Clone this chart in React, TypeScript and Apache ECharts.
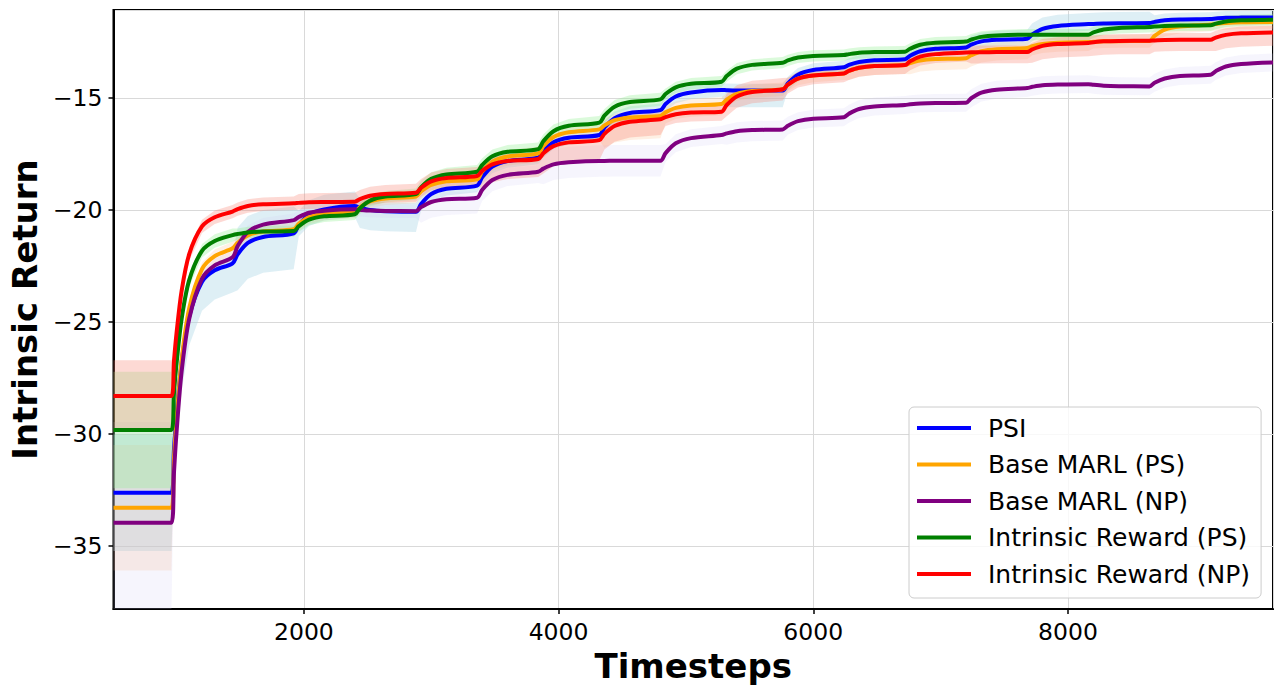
import React, { useEffect, useRef } from "react";
import * as echarts from "echarts";

// ---- data ----
const seriesNames = ["PSI", "Base MARL (PS)", "Base MARL (NP)", "Intrinsic Reward (PS)", "Intrinsic Reward (NP)"];
const lineColors = ["#0000ff", "#ffa500", "#800080", "#008000", "#ff0000"];
const bandColors = [
  "rgba(173,216,230,0.4)",
  "rgba(250,180,120,0.2)",
  "rgba(205,200,245,0.18)",
  "rgba(144,238,144,0.32)",
  "rgba(250,128,114,0.3)",
];

const timesteps = [
  505, 960, 980, 1000, 1040, 1100, 1200, 1300,
  1440, 1480, 1560, 1680,
  1920, 1960, 2040, 2160,
  2400, 2440, 2520, 2640,
  2880, 2920, 3000, 3120,
  3360, 3400, 3480, 3600,
  3840, 3880, 3960, 4080,
  4320, 4360, 4440, 4560,
  4800, 4840, 4920, 5040,
  5280, 5320, 5400, 5520,
  5760, 5800, 5880, 6000,
  6240, 6280, 6360, 6480,
  6720, 6760, 6840, 6960,
  7200, 7240, 7320, 7440,
  7680, 7720, 7800, 7920,
  8160, 8200, 8280, 8400,
  8640, 8680, 8760, 8880,
  9120, 9160, 9240, 9360,
  9610,
];

const psi = [
  -32.62, -32.62, -30.67, -29.14, -26.78, -24.74, -23.2, -22.69,
  -22.38, -21.98, -21.47, -21.2,
  -21.04, -20.67, -20.21, -19.97,
  -19.82, -19.9, -20.0, -20.05,
  -20.08, -19.73, -19.28, -19.05,
  -18.91, -18.54, -18.06, -17.81,
  -17.66, -17.36, -16.97, -16.77,
  -16.65, -16.32, -15.9, -15.67,
  -15.54, -15.27, -14.93, -14.75,
  -14.64, -14.65, -14.66, -14.66,
  -14.66, -14.35, -13.96, -13.75,
  -13.63, -13.52, -13.39, -13.31,
  -13.27, -13.11, -12.91, -12.8,
  -12.74, -12.62, -12.47, -12.4,
  -12.35, -12.16, -11.91, -11.78,
  -11.7, -11.69, -11.67, -11.66,
  -11.65, -11.6, -11.53, -11.49,
  -11.47, -11.45, -11.42, -11.41,
  -11.4,
];

const baseMarlPS = [
  -33.29, -33.29, -31.09, -29.35, -26.69, -24.37, -22.64, -22.06,
  -21.71, -21.46, -21.13, -20.96,
  -20.86, -20.62, -20.32, -20.16,
  -20.07, -19.87, -19.61, -19.48,
  -19.4, -19.17, -18.88, -18.72,
  -18.63, -18.28, -17.84, -17.61,
  -17.47, -17.15, -16.74, -16.53,
  -16.4, -16.22, -15.99, -15.87,
  -15.8, -15.64, -15.44, -15.33,
  -15.27, -15.07, -14.82, -14.69,
  -14.61, -14.4, -14.13, -13.99,
  -13.9, -13.79, -13.65, -13.57,
  -13.53, -13.44, -13.32, -13.26,
  -13.22, -13.09, -12.91, -12.82,
  -12.77, -12.69, -12.59, -12.53,
  -12.5, -12.49, -12.47, -12.46,
  -12.45, -12.23, -11.95, -11.81,
  -11.72, -11.69, -11.65, -11.62,
  -11.61,
];

const baseMarlNP = [
  -33.96, -33.96, -31.71, -29.93, -27.21, -24.84, -23.06, -22.47,
  -22.11, -21.61, -20.98, -20.65,
  -20.45, -20.31, -20.12, -20.03,
  -19.97, -19.99, -20.02, -20.04,
  -20.05, -19.87, -19.64, -19.52,
  -19.45, -19.1, -18.66, -18.43,
  -18.29, -18.15, -17.96, -17.87,
  -17.81, -17.81, -17.8, -17.8,
  -17.8, -17.46, -17.02, -16.79,
  -16.65, -16.58, -16.48, -16.43,
  -16.4, -16.24, -16.03, -15.92,
  -15.86, -15.7, -15.49, -15.38,
  -15.31, -15.28, -15.24, -15.22,
  -15.21, -15.01, -14.76, -14.63,
  -14.55, -14.5, -14.43, -14.4,
  -14.38, -14.41, -14.45, -14.47,
  -14.48, -14.32, -14.13, -14.02,
  -13.96, -13.8, -13.59, -13.48,
  -13.41,
];

const intrinsicPS = [
  -29.82, -29.82, -28.17, -26.86, -24.86, -23.12, -21.82, -21.38,
  -21.12, -21.07, -21.0, -20.96,
  -20.94, -20.72, -20.43, -20.28,
  -20.19, -19.92, -19.58, -19.4,
  -19.29, -18.99, -18.61, -18.41,
  -18.29, -17.99, -17.6, -17.4,
  -17.28, -16.93, -16.48, -16.24,
  -16.1, -15.79, -15.39, -15.18,
  -15.06, -14.82, -14.52, -14.36,
  -14.27, -14.02, -13.69, -13.52,
  -13.42, -13.32, -13.19, -13.12,
  -13.08, -13.04, -12.98, -12.95,
  -12.93, -12.8, -12.62, -12.53,
  -12.48, -12.39, -12.27, -12.21,
  -12.17, -12.17, -12.17, -12.17,
  -12.17, -12.07, -11.94, -11.87,
  -11.83, -11.81, -11.78, -11.76,
  -11.75, -11.68, -11.58, -11.53,
  -11.5,
];

const intrinsicNP = [
  -28.3, -28.3, -26.74, -25.5, -23.61, -21.96, -20.73, -20.32,
  -20.07, -19.96, -19.82, -19.74,
  -19.7, -19.68, -19.65, -19.64,
  -19.63, -19.51, -19.36, -19.28,
  -19.23, -19.01, -18.72, -18.57,
  -18.48, -18.25, -17.96, -17.81,
  -17.72, -17.47, -17.15, -16.98,
  -16.88, -16.6, -16.25, -16.06,
  -15.95, -15.85, -15.72, -15.65,
  -15.61, -15.31, -14.93, -14.73,
  -14.61, -14.4, -14.13, -13.99,
  -13.9, -13.79, -13.65, -13.57,
  -13.53, -13.36, -13.15, -13.04,
  -12.97, -12.96, -12.96, -12.95,
  -12.95, -12.83, -12.67, -12.59,
  -12.54, -12.51, -12.47, -12.45,
  -12.44, -12.43, -12.41, -12.4,
  -12.4, -12.3, -12.18, -12.11,
  -12.07,
];

// shaded band extent below / above each curve, one value per 480-step evaluation segment
const psiBandLo = [2.6, 1.3, 1.6, 0.5, 0.9, 0.3, 0.3, 0.3, 0.3, 0.3, 0.75, 0.3, 0.3, 0.3, 0.3, 0.3, 0.3, 0.3, 0.3];
const psiBandHi = [2.6, 0.3, 1.2, 0.65, 0.4, 0.4, 0.4, 0.3, 0.3, 0.3, 0.3, 0.3, 0.3, 0.3, 0.4, 0.5, 0.5, 0.3, 0.3];
const basePSBandLo = [2.8, 0.3, 0.3, 0.3, 0.3, 0.3, 0.4, 0.5, 1.0, 0.5, 0.3, 0.3, 0.4, 0.5, 0.5, 0.4, 0.3, 0.3, 0.3];
const basePSBandHi = [2.8, 0.3, 0.3, 0.3, 0.3, 0.3, 0.3, 0.3, 0.3, 0.3, 0.3, 0.3, 0.3, 0.3, 0.3, 0.3, 0.3, 0.3, 0.3];
const baseNPBandLo = [4.5, 0.3, 0.4, 0.3, 0.3, 0.7, 0.5, 0.7, 0.7, 0.4, 0.5, 0.4, 0.4, 0.4, 0.4, 0.4, 0.4, 0.4, 0.4];
const baseNPBandHi = [4.5, 0.3, 0.3, 0.3, 0.3, 0.3, 0.3, 0.7, 0.7, 0.4, 0.4, 0.4, 0.4, 0.4, 0.4, 0.4, 0.4, 0.4, 0.4];
const irPSBandLo = [2.6, 0.3, 0.25, 0.25, 0.25, 0.25, 0.3, 0.3, 0.3, 0.25, 0.25, 0.25, 0.25, 0.25, 0.25, 0.25, 0.25, 0.25, 0.25];
const irPSBandHi = [2.6, 0.3, 0.25, 0.25, 0.25, 0.3, 0.3, 0.3, 0.3, 0.25, 0.25, 0.25, 0.25, 0.25, 0.25, 0.25, 0.25, 0.25, 0.25];
const irNPBandLo = [1.6, 0.3, 0.3, 0.3, 0.4, 0.4, 0.8, 0.9, 0.7, 0.4, 0.5, 0.4, 0.4, 0.4, 0.5, 0.6, 0.6, 0.5, 0.6];
const irNPBandHi = [1.6, 0.3, 0.3, 0.4, 0.4, 0.4, 0.3, 0.3, 0.3, 0.3, 0.5, 0.3, 0.3, 0.3, 0.3, 0.3, 0.3, 0.3, 0.3];

const FONT = "'DejaVu Sans', 'Noto Sans', sans-serif";

function segmentOf(t: number): number {
  if (t <= 960) return 0;
  return Math.min(18, Math.ceil(t / 480) - 2);
}

export default function App() {
  const ref = useRef<HTMLDivElement>(null);

  useEffect(() => {
    if (!ref.current) return;
    const chart = echarts.init(ref.current, undefined, { renderer: "svg" });

    const curves = [psi, baseMarlPS, baseMarlNP, intrinsicPS, intrinsicNP];
    const los = [psiBandLo, basePSBandLo, baseNPBandLo, irPSBandLo, irNPBandLo];
    const his = [psiBandHi, basePSBandHi, baseNPBandHi, irPSBandHi, irNPBandHi];

    const series: any[] = [];
    curves.forEach((ys, i) => {
      const upper = timesteps.map((t, k) => [t, ys[k] + his[i][segmentOf(t)]]);
      const lower = timesteps.map((t, k) => [t, ys[k] - los[i][segmentOf(t)]]);
      series.push({
        name: "band-" + i,
        type: "custom",
        silent: true,
        z: 1,
        data: [[timesteps[0], ys[0]]],
        renderItem: (params: any, api: any) => {
          const cs = params.coordSys;
          const top = cs.y;
          const bot = cs.y + cs.height;
          const clampPt = (p: number[]) => {
            const c = api.coord(p);
            return [c[0], Math.min(bot, Math.max(top, c[1]))];
          };
          const up = upper.map(clampPt);
          const dn = lower.map(clampPt).reverse();
          return {
            type: "polygon",
            shape: { points: up.concat(dn) },
            style: { fill: bandColors[i], stroke: "none" },
          };
        },
      });
    });
    curves.forEach((ys, i) => {
      series.push({
        name: seriesNames[i],
        type: "line",
        data: timesteps.map((t, k) => [t, ys[k]]),
        symbol: "none",
        showSymbol: false,
        smooth: 0.3,
        color: lineColors[i],
        lineStyle: { color: lineColors[i], width: 4 },
        z: 3 + i,
      });
    });

    const minusFmt = (v: number) => String(v).replace("-", "\u2212");

    chart.setOption({
      animation: false,
      backgroundColor: "#ffffff",
      grid: {
        left: 112,
        right: 11,
        top: 10,
        bottom: 84,
        show: true,
        borderColor: "#000",
        borderWidth: 2,
        backgroundColor: "transparent",
      },
      legend: {
        data: seriesNames,
        orient: "vertical",
        left: 909,
        top: 407,
        padding: [8, 11, 11, 8],
        icon: "rect",
        itemWidth: 54,
        itemHeight: 4,
        itemGap: 10.5,
        backgroundColor: "rgba(255,255,255,0.8)",
        borderColor: "#cccccc",
        borderWidth: 1,
        borderRadius: 5,
        textStyle: {
          fontFamily: FONT,
          fontSize: 25,
          color: "#000",
          lineHeight: 26,
          padding: [0, 0, 0, 12],
        },
      },
      xAxis: {
        type: "value",
        min: 505,
        max: 9610,
        splitNumber: 5,
        name: "Timesteps",
        nameLocation: "middle",
        nameGap: 38,
        nameTextStyle: { fontFamily: FONT, fontSize: 34, fontWeight: "bold", color: "#000" },
        axisLine: { show: true, lineStyle: { color: "#000", width: 2 } },
        axisTick: { show: true, length: 5, lineStyle: { color: "#000", width: 1.5 } },
        axisLabel: {
          color: "#000",
          fontFamily: FONT,
          fontSize: 23.5,
          margin: 11,
          showMinLabel: false,
          showMaxLabel: false,
          formatter: (v: number) => String(v),
        },
        splitLine: { show: true, lineStyle: { color: "#d9d9d9", width: 1 } },
      },
      yAxis: {
        type: "value",
        min: -37.81,
        max: -11.07,
        splitNumber: 5,
        name: "Intrinsic Return",
        nameLocation: "middle",
        nameGap: 70,
        nameTextStyle: { fontFamily: FONT, fontSize: 34, fontWeight: "bold", color: "#000" },
        axisLine: { show: true, lineStyle: { color: "#000", width: 2 } },
        axisTick: { show: true, length: 5, lineStyle: { color: "#000", width: 1.5 } },
        axisLabel: {
          color: "#000",
          fontFamily: FONT,
          fontSize: 23.5,
          margin: 11,
          showMinLabel: false,
          showMaxLabel: false,
          formatter: minusFmt,
        },
        splitLine: { show: true, lineStyle: { color: "#d9d9d9", width: 1 } },
      },
      series,
    });

    return () => chart.dispose();
  }, []);

  return (
    <div
      ref={ref}
      style={{ position: "absolute", left: 0, top: 0, width: 1284, height: 693, background: "#fff" }}
    />
  );
}
